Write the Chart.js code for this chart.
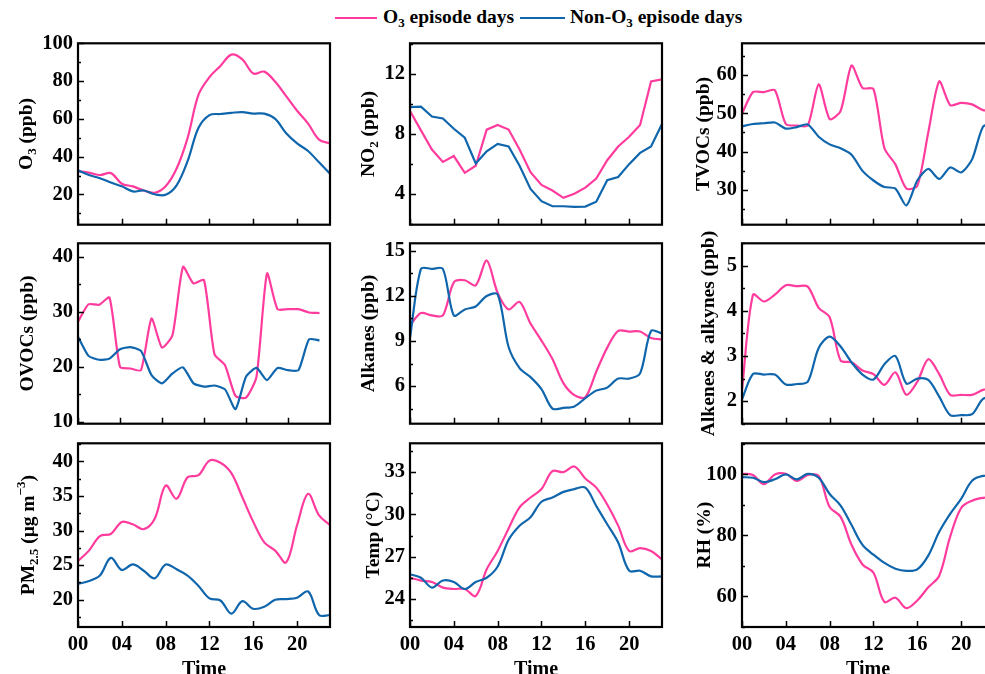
<!DOCTYPE html>
<html>
<head>
<meta charset="utf-8">
<title>Diurnal variations</title>
<script src="https://cdn.jsdelivr.net/npm/chart.js@4.4.1/dist/chart.umd.min.js"></script>
<style>
  html, body { margin: 0; padding: 0; background: #fff; }
  #wrap { position: relative; width: 985px; height: 674px; overflow: hidden; }
  #wrap canvas { position: absolute; }
  .lg { position: absolute; font: bold 19.5px "Liberation Serif", "Times New Roman", serif; color: #000; white-space: nowrap; line-height: 20px; }
  .lg sub { font-size: 13px; vertical-align: -4px; line-height: 0; }
  .ln { position: absolute; height: 2px; }
</style>
</head>
<body>
<div id="wrap">
  <span class="ln" style="left:335px;top:17px;width:42px;background:#FF3C9E"></span>
  <span class="lg" style="left:383px;top:7px">O<sub>3</sub> episode days</span>
  <span class="ln" style="left:520px;top:17px;width:45px;background:#1066AC"></span>
  <span class="lg" style="left:570px;top:7px">Non-O<sub>3</sub> episode days</span>
</div>

<script>
  // hour of day
  const hours = [0,1,2,3,4,5,6,7,8,9,10,11,12,13,14,15,16,17,18,19,20,21,22,23];
  const xTicks = [0, 4, 8, 12, 16, 20];
  const xLabels = ['00', '04', '08', '12', '16', '20'];

  // O3 episode days / non-O3 episode days
  const o3Ep   = [32.3,31.6,30.3,31.3,25.7,24.3,22.1,20.9,24.3,33.7,49.8,72.8,82.1,88,94,91.5,84,85,79.6,72,64.3,57.5,49,47];
  const o3Non  = [32.8,30.3,28.6,26.3,24.3,21.6,22.1,20.1,19.8,24.8,37.6,55.3,62,62.6,63.2,63.6,62.8,62.8,60,52.4,47,43,37,31];
  const no2Ep  = [9.53,8.24,6.96,6.14,6.53,5.41,5.88,8.29,8.6,8.3,6.96,5.45,4.6,4.23,3.74,4.02,4.42,5.03,6.25,7.17,7.82,8.6,11.5,11.65];
  const no2Non = [9.79,9.83,9.17,9.04,8.35,7.75,6.03,6.85,7.34,7.17,5.88,4.34,3.52,3.18,3.18,3.14,3.16,3.48,4.92,5.13,5.99,6.74,7.17,8.67];
  const tvocEp  = [49.9,55.5,55.5,56,47.2,46.8,46.8,57.5,48.5,50.6,62.4,56.6,56.3,40.9,36.7,30.4,31.1,45,58.3,52.1,52.7,52.3,50.8,50.5];
  const tvocNon = [46.6,47.2,47.4,47.6,46,46.4,47.1,43.9,41.9,40.9,39.2,35,32.5,30.8,30.4,26,32.5,35.5,32.9,35.9,34.6,38,46.5,47.5];
  const ovocEp  = [28.2,31.4,31.3,32.6,20,19.7,19.4,28.8,23.5,25.8,38.2,35.2,35.8,22.3,20.3,14.7,14.4,18.2,37,30.5,30.5,30.5,29.9,29.8];
  const ovocNon = [25.5,22,21.3,21.5,23.2,23.6,22.9,18.5,17,18.8,19.9,17,16.4,16.6,15.9,12.3,18.2,19.8,17.6,19.8,19.4,19.4,25,24.8];
  const alkEp  = [10.05,10.86,10.7,10.7,12.9,13.04,12.7,14.36,12.2,11.1,11.6,10.16,9.03,7.8,6.2,5.4,5.26,6.96,8.56,9.67,9.63,9.63,9.2,9.1];
  const alkNon = [9.2,13.8,13.8,13.8,10.7,11.1,11.3,12,12.1,8.6,7.2,6.6,5.8,4.5,4.55,4.65,5.2,5.7,5.9,6.5,6.5,6.85,9.67,9.5];
  const aleEp  = [2.25,4.36,4.21,4.36,4.57,4.55,4.54,4.07,3.86,2.9,2.86,2.68,2.6,2.36,2.64,2.14,2.43,2.93,2.6,2.14,2.14,2.14,2.25,2.3];
  const aleNon = [2.04,2.6,2.59,2.59,2.37,2.38,2.43,3.18,3.43,3.21,2.86,2.59,2.48,2.82,3.0,2.39,2.5,2.47,2.1,1.69,1.69,1.71,2.05,2.1];
  const pmEp  = [25.6,27.1,29.2,29.5,31.25,30.9,30.2,31.7,36.5,34.6,37.7,38,40.1,39.8,38.3,34.8,31.25,28.3,27.1,25.4,30.8,35.3,32.2,30.8];
  const pmNon = [22.3,22.7,23.5,26.05,24.3,25.1,24.2,23.1,25.1,24.4,23.5,22,20.2,19.9,18,19.8,18.7,19,20,20.1,20.3,21.2,17.8,17.8];
  const tempEp  = [25.5,25.3,25.2,24.8,24.7,24.7,24.2,26.1,27.4,29,30.5,31.2,31.8,33.07,33,33.4,32.55,31.9,30.7,29.2,27.4,27.6,27.4,26.8];
  const tempNon = [25.75,25.5,24.8,25.3,25.2,24.7,25.2,25.5,26.3,28.2,29.2,29.8,30.9,31.2,31.6,31.8,31.9,30.6,29.3,28,26,26,25.6,25.6];
  const rhEp  = [100.2,99.8,96.8,100,100.2,97.9,99.8,99.5,89.3,86.1,76.9,70.5,67.8,58.2,59.6,56.2,58.7,63,66.8,79.6,89,91.4,92.3,92.5];
  const rhNon = [99.1,98.9,97.5,98.4,100,98.4,100.2,98.9,93.6,89.8,83.4,76.9,73.7,71,69.1,68.4,68.9,73.4,81.2,87.1,92,97.9,99.5,99.3];

  // y tick labels of each panel
  const o3Ticks   = [20, 40, 60, 80, 100];
  const no2Ticks  = [4, 8, 12];
  const tvocTicks = [30, 40, 50, 60];
  const ovocTicks = [10, 20, 30, 40];
  const alkTicks  = [6, 9, 12, 15];
  const aleTicks  = [2, 3, 4, 5];
  const pmTicks   = [20, 25, 30, 35, 40];
  const tempTicks = [24, 27, 30, 33];
  const rhTicks   = [60, 80, 100];

  const PINK = '#FF3C9E', BLUE = '#1066AC';
  const FONT = '"Liberation Serif", "Times New Roman", serif';
  const TITLE_SIZE = 19.5;

  Chart.defaults.font.family = FONT;
  Chart.defaults.font.weight = 'bold';
  Chart.defaults.font.size = 20.5;
  Chart.defaults.color = '#000';

  // draw text with sub/superscripts, rotated for y titles
  function drawRich(ctx, parts, cx, cy, size, rotate) {
    const fonts = parts.map(p => 'bold ' + (p[1] ? Math.round(size * 0.66) : size) + 'px ' + FONT);
    let total = 0;
    const widths = parts.map((p, i) => { ctx.font = fonts[i]; const w = ctx.measureText(p[0]).width; total += w; return w; });
    ctx.save();
    ctx.translate(cx, cy);
    if (rotate) ctx.rotate(-Math.PI / 2);
    ctx.textAlign = 'left';
    ctx.textBaseline = 'alphabetic';
    ctx.fillStyle = '#000';
    let x = -total / 2;
    const base = size * 0.34;
    parts.forEach((p, i) => {
      ctx.font = fonts[i];
      const dy = p[1] === 1 ? size * 0.22 : p[1] === 2 ? -size * 0.42 : 0;
      ctx.fillText(p[0], x, base + dy);
      x += widths[i];
    });
    ctx.restore();
  }

  // frame, inward ticks and axis titles
  const framePlugin = {
    id: 'frame',
    afterDatasetsDraw(chart, args, o) {
      const { ctx, chartArea: a } = chart;
      const x = chart.scales.x, y = chart.scales.y;
      ctx.save();
      ctx.strokeStyle = '#000';
      ctx.lineWidth = 1.5;
      ctx.beginPath();
      xTicks.forEach(v => {
        const px = Math.round(x.getPixelForValue(v)) + 0.5;
        ctx.moveTo(px, a.bottom); ctx.lineTo(px, a.bottom - 6);
      });
      o.ticks.forEach(v => {
        const py = Math.round(y.getPixelForValue(v)) + 0.5;
        ctx.moveTo(a.left, py); ctx.lineTo(a.left + 6, py);
      });
      const step = o.ticks[1] - o.ticks[0];
      for (let v = o.ticks[0] - step / 2; v <= y.max; v += step) {
        if (v < y.min) continue;
        const py = Math.round(y.getPixelForValue(v)) + 0.5;
        ctx.moveTo(a.left, py); ctx.lineTo(a.left + 3, py);
      }
      ctx.stroke();
      ctx.lineWidth = 2.2;
      ctx.strokeRect(a.left, a.top, a.right - a.left, a.bottom - a.top);
      ctx.restore();
      drawRich(ctx, o.title, o.titleX, (a.top + a.bottom) / 2, TITLE_SIZE, true);
      if (o.bottomRow) drawRich(ctx, [['Time', 0]], (a.left + a.right) / 2, o.timeY, 20, false);
    }
  };

  const cols = [{ l: 78, r: 330 }, { l: 410, r: 662 }, { l: 742, r: 994 }];
  const rows = [{ t: 40, b: 228 }, { t: 240, b: 427 }, { t: 440, b: 627 }];

  const panels = [
    { c: 0, r: 0, ep: o3Ep, non: o3Non, ticks: o3Ticks, min: 4, max: 100, title: [['O', 0], ['3', 1], [' (ppb)', 0]], tx: 25, ten: 0.35 },
    { c: 1, r: 0, ep: no2Ep, non: no2Non, ticks: no2Ticks, min: 1.95, max: 14.05, title: [['NO', 0], ['2', 1], [' (ppb)', 0]], tx: 367, ten: 0 },
    { c: 2, r: 0, ep: tvocEp, non: tvocNon, ticks: tvocTicks, min: 21, max: 68.2, title: [['TVOCs (ppb)', 0]], tx: 702, ten: 0.25 },
    { c: 0, r: 1, ep: ovocEp, non: ovocNon, ticks: ovocTicks, min: 9.65, max: 42.5, title: [['OVOCs (ppb)', 0]], tx: 26, ten: 0.2, xmax: 24 },
    { c: 1, r: 1, ep: alkEp, non: alkNon, ticks: alkTicks, min: 3.5, max: 15.5, title: [['Alkanes (ppb)', 0]], tx: 367, ten: 0.3 },
    { c: 2, r: 1, ep: aleEp, non: aleNon, ticks: aleTicks, min: 1.5, max: 5.5, title: [['Alkenes & alkynes (ppb)', 0]], tx: 707, ten: 0.3 },
    { c: 0, r: 2, ep: pmEp, non: pmNon, ticks: pmTicks, min: 16.07, max: 42.6, title: [['PM', 0], ['2.5', 1], [' (\u03bcg m', 0], ['\u22123', 2], [')', 0]], tx: 27, ten: 0.35 },
    { c: 1, r: 2, ep: tempEp, non: tempNon, ticks: tempTicks, min: 22, max: 35.05, title: [['Temp (\u00b0C)', 0]], tx: 372, ten: 0.35 },
    { c: 2, r: 2, ep: rhEp, non: rhNon, ticks: rhTicks, min: 50, max: 110.2, title: [['RH (%)', 0]], tx: 703, ten: 0.35 }
  ];

  const wrap = document.getElementById('wrap');
  const PAD = 14;

  panels.forEach(p => {
    const col = cols[p.c], row = rows[p.r];
    const bottomRow = p.r === 2;
    const left = col.l - 74, top = row.t - PAD;
    const width = col.r + 6 - left;
    const height = bottomRow ? 674 - top : row.b + PAD - top;
    const xAxisH = bottomRow ? height - (row.b - top) : 0;

    const cv = document.createElement('canvas');
    cv.width = width; cv.height = height;
    cv.style.left = left + 'px'; cv.style.top = top + 'px';
    cv.style.width = width + 'px'; cv.style.height = height + 'px';
    wrap.appendChild(cv);

    const pts = arr => hours.map((h, i) => ({ x: h, y: arr[i] }));

    new Chart(cv, {
      type: 'line',
      data: {
        datasets: [
          { label: 'Non-O3 episode days', data: pts(p.non), borderColor: BLUE, borderWidth: 2.2, pointRadius: 0, tension: p.ten, fill: false },
          { label: 'O3 episode days', data: pts(p.ep), borderColor: PINK, borderWidth: 2.2, pointRadius: 0, tension: p.ten, fill: false }
        ]
      },
      options: {
        responsive: false,
        animation: false,
        devicePixelRatio: 1,
        layout: { padding: { left: 0, top: PAD, right: 6, bottom: bottomRow ? 0 : PAD } },
        plugins: {
          legend: { display: false },
          tooltip: { enabled: false },
          frame: { ticks: p.ticks, title: p.title, titleX: p.tx - left, bottomRow: bottomRow, timeY: 668 - top }
        },
        scales: {
          x: {
            type: 'linear',
            min: 0,
            max: p.xmax || 23,
            grid: { display: false, drawTicks: false },
            border: { display: false },
            afterBuildTicks: s => { s.ticks = xTicks.map(v => ({ value: v })); },
            afterFit: s => { s.height = xAxisH; },
            ticks: {
              display: bottomRow,
              padding: 5,
              maxRotation: 0,
              autoSkip: false,
              callback: v => xLabels[xTicks.indexOf(v)]
            }
          },
          y: {
            min: p.min,
            max: p.max,
            grid: { display: false, drawTicks: false },
            border: { display: false },
            afterBuildTicks: s => { s.ticks = p.ticks.map(v => ({ value: v })); },
            afterFit: s => { s.width = col.l - left; },
            ticks: { padding: 5, autoSkip: false }
          }
        }
      },
      plugins: [framePlugin]
    });
  });
</script>
</body>
</html>
